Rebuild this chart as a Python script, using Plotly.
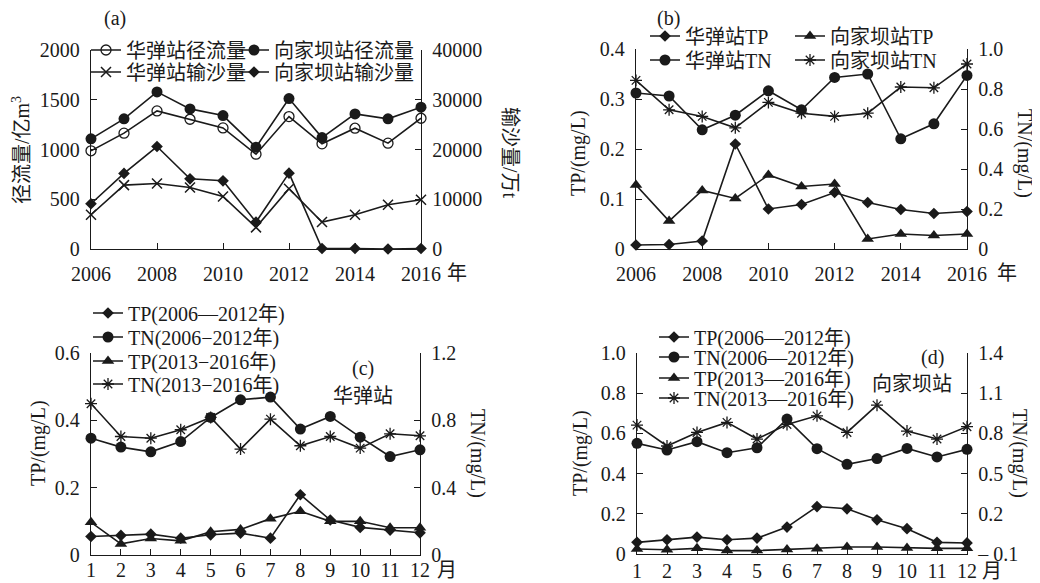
import plotly.graph_objects as go

# ---------------- data ----------------
years = [2006, 2007, 2008, 2009, 2010, 2011, 2012, 2013, 2014, 2015, 2016]
months = [1, 2, 3, 4, 5, 6, 7, 8, 9, 10, 11, 12]

# (a) runoff (1e8 m3) and sediment (1e4 t)
hd_runoff = [987, 1164, 1388, 1304, 1217, 953, 1331, 1057, 1214, 1064, 1314]
xjb_runoff = [1107, 1308, 1579, 1408, 1341, 1023, 1512, 1120, 1358, 1308, 1425]
hd_sed = [6890, 12843, 13177, 12375, 10569, 4348, 12107, 5418, 6890, 8896, 9900]
xjb_sed = [9097, 15184, 20602, 14114, 13712, 5418, 15251, 100, 100, 0, 100]

# (b) annual TP / TN (mg/L)
hd_tp = [0.008, 0.009, 0.016, 0.210, 0.080, 0.089, 0.113, 0.093, 0.079, 0.071, 0.075]
xjb_tp = [0.128, 0.056, 0.117, 0.101, 0.148, 0.125, 0.130, 0.020, 0.030, 0.027, 0.030]
hd_tn = [0.780, 0.765, 0.596, 0.669, 0.791, 0.696, 0.858, 0.875, 0.551, 0.626, 0.868]
xjb_tn = [0.843, 0.696, 0.663, 0.606, 0.733, 0.679, 0.663, 0.679, 0.810, 0.806, 0.925]

# (c) Huatan monthly
c_tp1 = [0.055, 0.058, 0.062, 0.050, 0.060, 0.065, 0.050, 0.179, 0.104, 0.082, 0.074, 0.066]
c_tn1 = [0.694, 0.641, 0.613, 0.674, 0.817, 0.922, 0.938, 0.748, 0.823, 0.700, 0.585, 0.625]
c_tp2 = [0.097, 0.033, 0.049, 0.042, 0.069, 0.076, 0.108, 0.130, 0.100, 0.100, 0.081, 0.081]
c_tn2 = [0.899, 0.704, 0.694, 0.744, 0.817, 0.629, 0.807, 0.649, 0.704, 0.635, 0.720, 0.708]

# (d) Xiangjiaba monthly
d_tp1 = [0.058, 0.071, 0.084, 0.071, 0.079, 0.134, 0.236, 0.225, 0.170, 0.126, 0.058, 0.055]
d_tn1 = [0.726, 0.676, 0.738, 0.656, 0.693, 0.907, 0.686, 0.569, 0.612, 0.688, 0.624, 0.681]
d_tp2 = [0.025, 0.021, 0.028, 0.017, 0.017, 0.023, 0.026, 0.035, 0.035, 0.030, 0.028, 0.028]
d_tn2 = [0.862, 0.706, 0.807, 0.882, 0.758, 0.867, 0.931, 0.807, 1.011, 0.817, 0.758, 0.850]

# tick labels
year_ticks = [2006, 2008, 2010, 2012, 2014, 2016]
a_left_ticks = [0, 500, 1000, 1500, 2000]
a_right_ticks = [0, 10000, 20000, 30000, 40000]
b_left_ticks = [0, 0.1, 0.2, 0.3, 0.4]
b_left_text = ["0", "0.1", "0.2", "0.3", "0.4"]
b_right_ticks = [0, 0.2, 0.4, 0.6, 0.8, 1.0]
b_right_text = ["0", "0.2", "0.4", "0.6", "0.8", "1.0"]
c_left_ticks = [0, 0.2, 0.4, 0.6]
c_left_text = ["0", "0.2", "0.4", "0.6"]
c_right_ticks = [0, 0.4, 0.8, 1.2]
c_right_text = ["0", "0.4", "0.8", "1.2"]
d_left_ticks = [0, 0.2, 0.4, 0.6, 0.8, 1.0]
d_left_text = ["0", "0.2", "0.4", "0.6", "0.8", "1.0"]
d_right_ticks = [-0.1, 0.2, 0.5, 0.8, 1.1, 1.4]
d_right_text = ["\u2013 0.1", "0.2", "0.5", "0.8", "1.1", "1.4"]

# ---------------- styling helpers ----------------
OFF = 8                      # default page body margin
W, H = 1040 - OFF, 583 - OFF
FONT = "Liberation Serif, Times New Roman, Noto Sans CJK SC, serif"
BLACK = "#1a1a1a"


def fx(px):
    return (px - OFF) / W


def fy(py):
    return 1 - (py - OFF) / H


MK = {
    "ocircle": dict(symbol="circle-open", size=10, line=dict(width=1.3, color=BLACK)),
    "circle": dict(symbol="circle", size=11),
    "x": dict(symbol="x-thin-open", size=10, line=dict(width=1.5, color=BLACK)),
    "diamond": dict(symbol="diamond", size=9),
    "tri": dict(symbol="triangle-up", size=11),
    "star": dict(symbol="asterisk-open", size=10, line=dict(width=1.3, color=BLACK)),
}

fig = go.Figure()
legend_defs = {}
leg_counter = [0]


def add(x, y, name, mk, xa, ya, lx, ly):
    leg_counter[0] += 1
    lid = "legend" if leg_counter[0] == 1 else f"legend{leg_counter[0]}"
    m = dict(MK[mk])
    m["color"] = BLACK
    fig.add_trace(go.Scatter(
        x=x, y=y, name=name, mode="lines+markers",
        line=dict(color=BLACK, width=1.6), marker=m,
        xaxis=xa, yaxis=ya, cliponaxis=False, legend=lid,
    ))
    legend_defs[lid] = dict(
        x=fx(lx), y=fy(ly), xanchor="left", yanchor="middle",
        bgcolor="rgba(0,0,0,0)", borderwidth=0, itemwidth=30,
        font=dict(family=FONT, size=20, color=BLACK),
        tracegroupgap=0,
    )


# (a)
add(years, hd_runoff, "华弹站径流量", "ocircle", "x", "y", 86, 50)
add(years, xjb_runoff, "向家坝站径流量", "circle", "x", "y", 234, 50)
add(years, hd_sed, "华弹站输沙量", "x", "x", "y2", 86, 72)
add(years, xjb_sed, "向家坝站输沙量", "diamond", "x", "y2", 234, 72)
# (b)
add(years, hd_tp, "华弹站TP", "diamond", "x2", "y3", 645, 36)
add(years, xjb_tp, "向家坝站TP", "tri", "x2", "y3", 790, 36)
add(years, hd_tn, "华弹站TN", "circle", "x2", "y4", 645, 60)
add(years, xjb_tn, "向家坝站TN", "star", "x2", "y4", 790, 60)
# (c)
add(months, c_tp1, "TP(2006—2012年)", "diamond", "x3", "y5", 88, 313)
add(months, c_tn1, "TN(2006−2012年)", "circle", "x3", "y6", 88, 337)
add(months, c_tp2, "TP(2013−2016年)", "tri", "x3", "y5", 88, 361)
add(months, c_tn2, "TN(2013−2016年)", "star", "x3", "y6", 88, 384)
# (d)
add(months, d_tp1, "TP(2006—2012年)", "diamond", "x4", "y7", 654, 337)
add(months, d_tn1, "TN(2006—2012年)", "circle", "x4", "y8", 654, 357)
add(months, d_tp2, "TP(2013—2016年)", "tri", "x4", "y7", 654, 378)
add(months, d_tn2, "TN(2013—2016年)", "star", "x4", "y8", 654, 398)

tickfont = dict(family=FONT, size=20, color=BLACK)


def xax(l, r, b, rng, vals, anchor, standoff):
    return dict(domain=[fx(l), fx(r)], range=rng, tickvals=vals, anchor=anchor,
                showline=True, linecolor=BLACK, linewidth=1.3, ticks="inside",
                ticklen=6, tickcolor=BLACK, showgrid=False, zeroline=False,
                tickfont=tickfont, ticklabelstandoff=standoff, automargin=False)


def yax(t, b, rng, vals, text, anchor, side="left", overlay=None):
    d = dict(domain=[fy(b), fy(t)], range=rng, tickvals=vals, ticktext=text,
             anchor=anchor, side=side, showline=True, linecolor=BLACK,
             linewidth=1.3, ticks="inside", ticklen=6, tickcolor=BLACK,
             showgrid=False, zeroline=False, tickfont=tickfont,
             ticklabelstandoff=6, automargin=False)
    if overlay:
        d["overlaying"] = overlay
    return d


layout = dict(
    width=W, height=H, margin=dict(l=0, r=0, t=0, b=0, autoexpand=False),
    paper_bgcolor="white", plot_bgcolor="white",
    font=dict(family=FONT, color=BLACK),
    showlegend=True,
    xaxis=xax(91, 421, 249, [2006, 2016], year_ticks, "y", 7),
    yaxis=yax(50, 249, [0, 2000], a_left_ticks, [str(v) for v in a_left_ticks], "x"),
    yaxis2=yax(50, 249, [0, 40000], a_right_ticks, [str(v) for v in a_right_ticks], "x", "right", "y"),
    xaxis2=xax(636, 967, 249, [2006, 2016], year_ticks, "y3", 7),
    yaxis3=yax(49, 249, [0, 0.4], b_left_ticks, b_left_text, "x2"),
    yaxis4=yax(49, 249, [0, 1.0], b_right_ticks, b_right_text, "x2", "right", "y3"),
    xaxis3=xax(91, 420, 555, [1, 12], months, "y5", -3),
    yaxis5=yax(353, 555, [0, 0.6], c_left_ticks, c_left_text, "x3"),
    yaxis6=yax(353, 555, [0, 1.2], c_right_ticks, c_right_text, "x3", "right", "y5"),
    xaxis4=xax(637, 967, 554, [1, 12], months, "y7", -1),
    yaxis7=yax(353, 554, [0, 1.0], d_left_ticks, d_left_text, "x4"),
    yaxis8=yax(353, 554, [-0.1, 1.4], d_right_ticks, d_right_text, "x4", "right", "y7"),
)
layout.update(legend_defs)
fig.update_layout(**layout)


def ann(px, py, text, angle=0, size=20):
    fig.add_annotation(x=fx(px), y=fy(py), xref="paper", yref="paper",
                       text=text, showarrow=False, textangle=angle,
                       font=dict(family=FONT, size=size, color=BLACK),
                       xanchor="center", yanchor="middle")


ann(115, 19, "(a)")
ann(668, 19, "(b)")
ann(363, 368, "(c)")
ann(363, 396, "华弹站")
ann(932, 357, "(d)")
ann(912, 384, "向家坝站")
ann(21, 150, "径流量/亿m<sup>3</sup>", -90)
ann(510, 153, "输沙量/万t", 90)
ann(578, 153, "TP/(mg/L)", -90)
ann(1025, 153, "TN/(mg/L)", 90)
ann(38, 443, "TP/(mg/L)", -90)
ann(478, 453, "TN/(mg/L)", 90)
ann(580, 453, "TP/(mg/L)", -90)
ann(1020, 453, "TN/(mg/L)", 90)
ann(457, 273, "年")
ann(1007, 273, "年")
ann(447, 570, "月")
ann(992, 571, "月")

fig.write_html("out.html")
